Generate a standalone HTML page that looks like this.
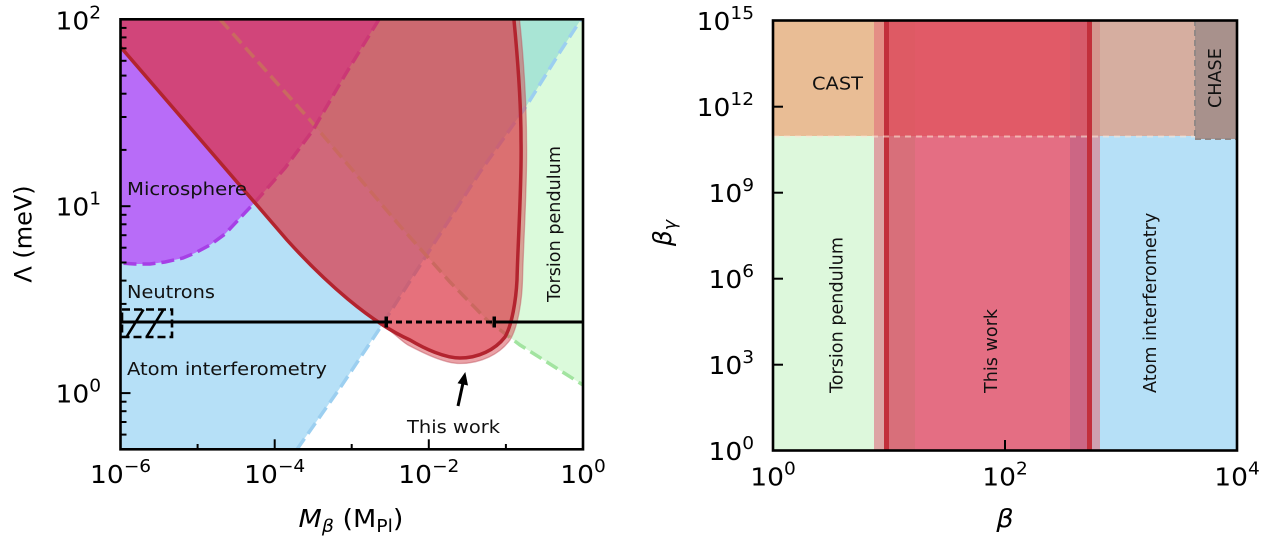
<!DOCTYPE html>
<html>
<head>
<meta charset="utf-8">
<style>
html,body{margin:0;padding:0;background:#fff;}
svg{display:block;}
text{font-family:"DejaVu Sans","Liberation Sans",sans-serif;fill:#000;}
.tk{font-size:25px;}
.lab{font-size:18px;fill:#111;}
</style>
</head>
<body>
<svg width="1269" height="553" viewBox="0 0 1269 553" xmlns="http://www.w3.org/2000/svg">
<defs>
  <clipPath id="cl"><rect x="120.5" y="19.3" width="462.5" height="430"/></clipPath>
  <clipPath id="cr"><rect x="773" y="20.5" width="464" height="430"/></clipPath>
  <mask id="outside" maskUnits="userSpaceOnUse" x="0" y="0" width="1269" height="553">
    <rect x="0" y="0" width="1269" height="553" fill="#fff"/>
    <path d="M120.5,47 L287,240 C325,282 370,322 410,340 C425,349 445,358 460,358 C478,358 495,350 505,337 C512,325 516,300 517,280 C518,240 522,180 521,140 C521,100 517,50 513,19.3 L120.5,19.3 Z" fill="#000"/>
  </mask>
</defs>
<rect width="1269" height="553" fill="#fff"/>

<!-- ============ LEFT PLOT ============ -->
<g clip-path="url(#cl)">
  <!-- Atom interferometry (blue) -->
  <polygon points="120.5,19.3 581,19.3 560,52 527,105 480,172 433,245 380,328 340,388 297,449.3 120.5,449.3" fill="#b6e0f7"/>
  <!-- Torsion pendulum (green) -->
  <polygon points="220,19.3 310,120 400,226 450,282 487,320 520,345 550,364 583,385 583,19.3" fill="rgb(144,238,144)" fill-opacity="0.32"/>
  <!-- Microsphere (purple) -->
  <polygon points="379,19.3 345,75 313,130 285,168 257,200 240,218 225,234 210,245 195,253 183,258 165,262 150,264 135,264 120.5,263 120.5,19.3" fill="#b86cf8"/>
  <!-- dashed boundaries -->
  <polyline points="297,449.3 340,388 380,328 433,245 480,172 527,105 560,52 581,19.3" fill="none" stroke="#9ccff0" stroke-width="3.5" stroke-dasharray="13 6"/>
  <polyline points="220,19.3 310,120 400,226 450,282 487,320 520,345 550,364 583,385" fill="none" stroke="#a2e4a0" stroke-width="3.5" stroke-dasharray="13 6"/>
  <polyline points="379,19.3 345,75 313,130 285,168 257,200 240,218 225,234 210,245 195,253 183,258 165,262 150,264 135,264 120.5,263" fill="none" stroke="#a640e6" stroke-width="3.5" stroke-dasharray="13 6"/>

  <!-- band (outer sliver) -->
  <path mask="url(#outside)" d="M383,325 C398,337 404,343 408,345 C425,354 445,363.5 460,363.5 C481,363.5 500,354 510,340 C518,327 522,300 522.5,280 C523.5,240 527.5,180 526.5,140 C526.5,100 523,50 519,15 L400,15 Z" fill="rgb(214,70,80)" fill-opacity="0.5"/>
  <path mask="url(#outside)" d="M383,325 C398,337 404,343 408,345 C425,354 445,363.5 460,363.5 C481,363.5 500,354 510,340 C518,327 522,300 522.5,280 C523.5,240 527.5,180 526.5,140 C526.5,100 523,50 519,15" fill="none" stroke="rgb(190,80,90)" stroke-opacity="0.45" stroke-width="1.3"/>
  <!-- This work region -->
  <path d="M120.5,47 L287,240 C325,282 370,322 410,340 C425,349 445,358 460,358 C478,358 495,350 505,337 C512,325 516,300 517,280 C518,240 522,180 521,140 C521,100 517,50 513,19.3 L120.5,19.3 Z" fill="rgb(220,53,69)" fill-opacity="0.7"/>
  <path d="M118,44 L287,240 C325,282 370,322 410,340 C425,349 445,358 460,358 C478,358 495,350 505,337 C512,325 516,300 517,280 C518,240 522,180 521,140 C521,100 517,50 513,10" fill="none" stroke="#b3242f" stroke-width="3.5"/>

  <!-- black line -->
  <line x1="120" y1="322" x2="386" y2="322" stroke="#000" stroke-width="3"/>
  <line x1="386" y1="322" x2="494" y2="322" stroke="#000" stroke-width="3" stroke-dasharray="6 4"/>
  <line x1="494" y1="322" x2="584" y2="322" stroke="#000" stroke-width="3"/>
  <rect x="384.5" y="316.5" width="3.5" height="11" fill="#000"/>
  <rect x="492.5" y="316.5" width="3.5" height="11" fill="#000"/>
  <!-- hatched box -->
  <rect x="122" y="309.5" width="50" height="27.5" fill="none" stroke="#000" stroke-width="2.6" stroke-dasharray="8 4"/>
  <line x1="126.5" y1="337" x2="143.5" y2="309.5" stroke="#000" stroke-width="2.6"/>
  <line x1="146.5" y1="337" x2="163.5" y2="309.5" stroke="#000" stroke-width="2.6"/>

  <!-- arrow -->
  <line x1="458" y1="406" x2="463" y2="383" stroke="#000" stroke-width="3"/>
  <polygon points="465.3,372 468,385.5 457.5,383.3" fill="#000"/>

  <!-- labels -->
  <text class="lab" x="127" y="195" textLength="120" lengthAdjust="spacingAndGlyphs">Microsphere</text>
  <text class="lab" x="127" y="298" textLength="88" lengthAdjust="spacingAndGlyphs">Neutrons</text>
  <text class="lab" x="127" y="375" textLength="200" lengthAdjust="spacingAndGlyphs">Atom interferometry</text>
  <text class="lab" x="407" y="433" textLength="93" lengthAdjust="spacingAndGlyphs">This work</text>
  <text class="lab" transform="translate(560,302) rotate(-90)" style="font-size:17.6px">Torsion pendulum</text>
</g>

<!-- left frame + ticks -->
<g stroke="#000" stroke-width="2">
  <line x1="274.7" y1="449.3" x2="274.7" y2="439.3"/>
  <line x1="428.8" y1="449.3" x2="428.8" y2="439.3"/>
  <line x1="197.6" y1="449.3" x2="197.6" y2="444"/>
  <line x1="351.7" y1="449.3" x2="351.7" y2="444"/>
  <line x1="505.9" y1="449.3" x2="505.9" y2="444"/>
  <line x1="120.5" y1="206.2" x2="130.5" y2="206.2"/>
  <line x1="120.5" y1="393.1" x2="130.5" y2="393.1"/>
  <line x1="120.5" y1="27.9" x2="126.5" y2="27.9"/>
  <line x1="120.5" y1="37.4" x2="126.5" y2="37.4"/>
  <line x1="120.5" y1="48.3" x2="126.5" y2="48.3"/>
  <line x1="120.5" y1="60.8" x2="126.5" y2="60.8"/>
  <line x1="120.5" y1="75.6" x2="126.5" y2="75.6"/>
  <line x1="120.5" y1="93.7" x2="126.5" y2="93.7"/>
  <line x1="120.5" y1="117" x2="126.5" y2="117"/>
  <line x1="120.5" y1="149.9" x2="126.5" y2="149.9"/>
  <line x1="120.5" y1="214.8" x2="126.5" y2="214.8"/>
  <line x1="120.5" y1="224.3" x2="126.5" y2="224.3"/>
  <line x1="120.5" y1="235.2" x2="126.5" y2="235.2"/>
  <line x1="120.5" y1="247.7" x2="126.5" y2="247.7"/>
  <line x1="120.5" y1="262.5" x2="126.5" y2="262.5"/>
  <line x1="120.5" y1="280.6" x2="126.5" y2="280.6"/>
  <line x1="120.5" y1="303.9" x2="126.5" y2="303.9"/>
  <line x1="120.5" y1="336.8" x2="126.5" y2="336.8"/>
  <line x1="120.5" y1="401.7" x2="126.5" y2="401.7"/>
  <line x1="120.5" y1="411.2" x2="126.5" y2="411.2"/>
  <line x1="120.5" y1="422" x2="126.5" y2="422"/>
  <line x1="120.5" y1="434.6" x2="126.5" y2="434.6"/>
</g>
<rect x="120.5" y="19.3" width="462.5" height="430" fill="none" stroke="#000" stroke-width="2.6"/>

<!-- left tick labels -->
<text class="tk" transform="translate(120.5,483) scale(1.06,1)" text-anchor="middle">10<tspan font-size="17.5" dy="-11">−6</tspan></text>
<text class="tk" transform="translate(274.7,483) scale(1.06,1)" text-anchor="middle">10<tspan font-size="17.5" dy="-11">−4</tspan></text>
<text class="tk" transform="translate(428.8,483) scale(1.06,1)" text-anchor="middle">10<tspan font-size="17.5" dy="-11">−2</tspan></text>
<text class="tk" transform="translate(583,483) scale(1.06,1)" text-anchor="middle">10<tspan font-size="17.5" dy="-11">0</tspan></text>
<text class="tk" transform="translate(101,29.3) scale(1.06,1)" text-anchor="end">10<tspan font-size="17.5" dy="-11">2</tspan></text>
<text class="tk" transform="translate(101,215.5) scale(1.06,1)" text-anchor="end">10<tspan font-size="17.5" dy="-11">1</tspan></text>
<text class="tk" transform="translate(101,402.5) scale(1.06,1)" text-anchor="end">10<tspan font-size="17.5" dy="-11">0</tspan></text>

<!-- left axis labels -->
<text class="tk" transform="translate(351,527) scale(1.08,1)" text-anchor="middle"><tspan font-style="italic">M</tspan><tspan font-style="italic" font-size="17.5" dy="5">β</tspan><tspan dy="-5"> (M</tspan><tspan font-size="17.5" dy="5">Pl</tspan><tspan dy="-5">)</tspan></text>
<text transform="translate(31.5,234) rotate(-90)" text-anchor="middle" style="font-size:24px">Λ (meV)</text>

<!-- ============ RIGHT PLOT ============ -->
<g clip-path="url(#cr)">
  <!-- lower part -->
  <rect x="773" y="136" width="101" height="315" fill="#ddf8dc"/>
  <rect x="874" y="136" width="10" height="315" fill="#dda4a4"/>
  <rect x="889" y="136" width="26" height="315" fill="#d86f7a"/>
  <rect x="915" y="136" width="155" height="315" fill="#e46e83"/>
  <rect x="1070" y="136" width="17" height="315" fill="#cc6684"/>
  <rect x="1092" y="136" width="8" height="315" fill="#cfa0b0"/>
  <rect x="1100" y="136" width="137" height="315" fill="#b6e0f7"/>
  <!-- upper part -->
  <rect x="773" y="20" width="101" height="116" fill="#e9bd95"/>
  <rect x="874" y="20" width="10" height="116" fill="#e48e85"/>
  <rect x="889" y="20" width="26" height="116" fill="#de5a64"/>
  <rect x="915" y="20" width="155" height="116" fill="#e15a67"/>
  <rect x="1070" y="20" width="17" height="116" fill="#d75b6b"/>
  <rect x="1092" y="20" width="8" height="116" fill="#d5968f"/>
  <rect x="1100" y="20" width="95" height="116" fill="#d6aea0"/>
  <rect x="1195" y="20" width="42" height="119" fill="#a8918c"/>
  <!-- dark red lines -->
  <rect x="884" y="20" width="5" height="431" fill="#c22f3b"/>
  <rect x="1087" y="20" width="5" height="431" fill="#c22f3b"/>
  <!-- dashed boundaries -->
  <line x1="773" y1="136.5" x2="1195" y2="136.5" stroke="#fbe3d2" stroke-opacity="0.6" stroke-width="2" stroke-dasharray="6 5"/>
  <line x1="1195" y1="20" x2="1195" y2="139" stroke="#918886" stroke-width="2" stroke-dasharray="6 4"/>
  <line x1="1195" y1="139" x2="1237" y2="139" stroke="#918886" stroke-width="2" stroke-dasharray="6 4"/>
  <!-- labels -->
  <text class="lab" x="812" y="89.5" textLength="51" lengthAdjust="spacingAndGlyphs">CAST</text>
  <text class="lab" transform="translate(1221,108) rotate(-90)" style="font-size:17.6px">CHASE</text>
  <text class="lab" transform="translate(842.5,393) rotate(-90)" style="font-size:17.6px">Torsion pendulum</text>
  <text class="lab" transform="translate(997,393) rotate(-90)" style="font-size:17.6px">This work</text>
  <text class="lab" transform="translate(1156,393) rotate(-90)" style="font-size:17.6px">Atom interferometry</text>
</g>

<!-- right ticks + frame -->
<g stroke="#000" stroke-width="2">
  <line x1="773" y1="106.7" x2="783" y2="106.7"/>
  <line x1="773" y1="192.7" x2="783" y2="192.7"/>
  <line x1="773" y1="278.7" x2="783" y2="278.7"/>
  <line x1="773" y1="364.7" x2="783" y2="364.7"/>
  <line x1="1005" y1="450.5" x2="1005" y2="440"/>
</g>
<rect x="773" y="20.5" width="464" height="430" fill="none" stroke="#000" stroke-width="2.6"/>

<!-- right tick labels -->
<text class="tk" transform="translate(754,30.2) scale(1.06,1)" text-anchor="end">10<tspan font-size="17.5" dy="-11">15</tspan></text>
<text class="tk" transform="translate(754,116.2) scale(1.06,1)" text-anchor="end">10<tspan font-size="17.5" dy="-11">12</tspan></text>
<text class="tk" transform="translate(754,202.2) scale(1.06,1)" text-anchor="end">10<tspan font-size="17.5" dy="-11">9</tspan></text>
<text class="tk" transform="translate(754,288.2) scale(1.06,1)" text-anchor="end">10<tspan font-size="17.5" dy="-11">6</tspan></text>
<text class="tk" transform="translate(754,374.2) scale(1.06,1)" text-anchor="end">10<tspan font-size="17.5" dy="-11">3</tspan></text>
<text class="tk" transform="translate(754,460.2) scale(1.06,1)" text-anchor="end">10<tspan font-size="17.5" dy="-11">0</tspan></text>
<text class="tk" transform="translate(773,485.5) scale(1.06,1)" text-anchor="middle">10<tspan font-size="17.5" dy="-11">0</tspan></text>
<text class="tk" transform="translate(1005,485.5) scale(1.06,1)" text-anchor="middle">10<tspan font-size="17.5" dy="-11">2</tspan></text>
<text class="tk" transform="translate(1237,485.5) scale(1.06,1)" text-anchor="middle">10<tspan font-size="17.5" dy="-11">4</tspan></text>

<!-- right axis labels -->
<text class="tk" transform="translate(1005,527) scale(1.08,1)" text-anchor="middle" font-style="italic">β</text>
<text class="tk" transform="translate(671,233) rotate(-90)" text-anchor="middle"><tspan font-style="italic">β</tspan><tspan font-style="italic" font-size="17.5" dy="5">γ</tspan></text>
</svg>
</body>
</html>
